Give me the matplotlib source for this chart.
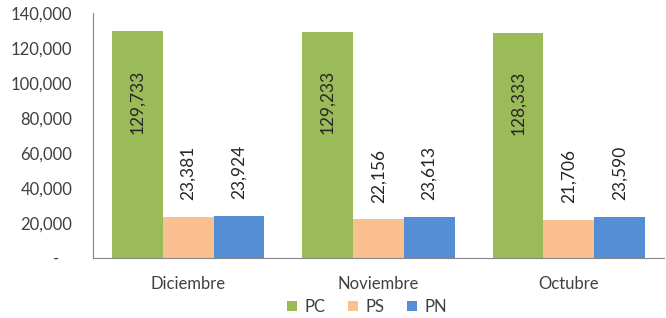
import matplotlib.pyplot as plt
import numpy as np

plt.rcParams['font.family'] = ['Lato', 'DejaVu Sans']

# data
months = ["Diciembre", "Noviembre", "Octubre"]
series = ["PC", "PS", "PN"]
pc = [129733, 129233, 128333]
ps = [23381, 22156, 21706]
pn = [23924, 23613, 23590]
colors = ["#9BBB59", "#FAC090", "#558ED5"]

fig = plt.figure(figsize=(6.66, 3.18), dpi=100)
ax = fig.add_axes([93 / 666, 1 - 258 / 318, (664 - 93) / 666, (258 - 13) / 318])

x = np.arange(len(months))
w = 0.8 / 3
for i, (name, vals, c) in enumerate(zip(series, [pc, ps, pn], colors)):
    pos = x + (i - 1) * w
    ax.bar(pos, vals, width=w, color=c, label=name)
    for xp, v in zip(pos, vals):
        txt = f"{v:,}"
        if i == 0:
            # label sits a bit above the middle of the tall bar
            ax.text(xp, v * 0.69, txt, rotation=90, ha="center", va="center",
                    fontsize=12.5, color="#262626")
        else:
            ax.annotate(txt, (xp, v), xytext=(0, 12), textcoords="offset points",
                        rotation=90, ha="center", va="bottom",
                        fontsize=12.5, color="#262626")

ax.set_xlim(-0.5, 2.5)
ax.set_ylim(0, 140000)
ax.set_yticks(range(0, 140001, 20000))
ax.set_yticklabels(["-   "] + [f"{v:,}" for v in range(20000, 140001, 20000)])
ax.set_xticks(x)
ax.set_xticklabels(months, fontsize=12.5)
ax.tick_params(length=0, labelsize=12, colors="#404040")
ax.tick_params(axis="y", pad=15)
ax.tick_params(axis="x", pad=13)
for s in ["top", "right"]:
    ax.spines[s].set_visible(False)
ax.spines["left"].set_color("#868686")
ax.spines["bottom"].set_color("#868686")

fig.legend(loc="center", bbox_to_anchor=(367 / 666, 1 - 307 / 318), ncol=3,
           frameon=False, fontsize=12, handlelength=0.6, handleheight=0.6,
           handletextpad=0.5, columnspacing=1.3, labelcolor="#404040")

fig.savefig("out.png", dpi=100)
